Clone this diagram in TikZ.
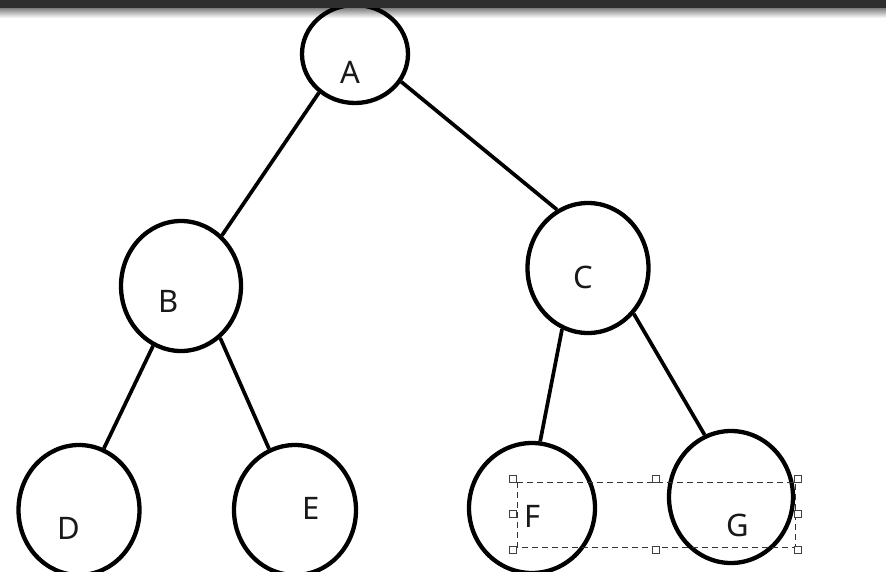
\documentclass[tikz,border=0pt]{standalone}
\usepackage{fontspec}
\setmainfont{Noto Sans}
\usetikzlibrary{shapes.geometric}
\begin{document}
\begin{tikzpicture}[x=1pt,y=-1pt,
  tnode/.style={draw=black,line width=4.3pt,ellipse,inner sep=0pt},
  lbl/.style={inner sep=0pt,font=\fontsize{31}{31}\selectfont,text=black!90},
  edge/.style={draw=black,line width=3.7pt},
  handle/.style={draw=black!75,fill=white,line width=0.9pt,minimum size=7pt,inner sep=0pt,rectangle},
  selbox/.style={draw=black!80,line width=1pt,dash pattern=on 6pt off 4pt}]
\useasboundingbox (0,0) rectangle (886,571);
\fill[white] (0,0) rectangle (886,571);
% shadow under top bar
\shade[top color=black!50,bottom color=white] (0,8) rectangle (886,18);
% nodes
\node[tnode,minimum width=106pt,minimum height=98pt] (A) at (355,54) {};
\node[tnode,minimum width=120pt,minimum height=130pt] (B) at (181,286) {};
\node[tnode,minimum width=121pt,minimum height=130pt] (C) at (588,268) {};
\node[tnode,minimum width=121pt,minimum height=130pt] (D) at (79,510) {};
\node[tnode,minimum width=122pt,minimum height=130pt] (E) at (295,510) {};
\node[tnode,minimum width=126pt,minimum height=130pt] (F) at (532,508) {};
\node[tnode,minimum width=124pt,minimum height=132pt] (G) at (731,497) {};
% labels
\node[lbl] (tA) at (350,72) {A};
\node[lbl] (tB) at (169,301) {B};
\node[lbl] (tC) at (583,277) {C};
\node[lbl] (tD) at (69,528) {D};
\node[lbl] (tE) at (311,508) {E};
\node[lbl] (tF) at (533,516) {F};
\node[lbl] (tG) at (738,525) {G};
% edges
\draw[edge] (A.227) -- (B.51);
\draw[edge] (A.329) -- (C.118);
\draw[edge] (B.245) -- (D.68);
\draw[edge] (B.307) -- (E.113);
\draw[edge] (C.247) -- (F.83);
\draw[edge] (C.315) -- (G.113);
% selection box
\coordinate (s1) at (517,482);
\coordinate (s2) at (795,547);
\draw[selbox] (s1) rectangle (s2);
\foreach \i/\p in {1/{(513,479)},2/{(656,479)},3/{(798,479)},4/{(513,514)},5/{(798,514)},6/{(513,550)},7/{(656,550)},8/{(798,550)}}
  \node[handle] (h\i) at \p {};
% top bar
\fill[black!82] (0,0) rectangle (886,8);
\end{tikzpicture}
\end{document}
